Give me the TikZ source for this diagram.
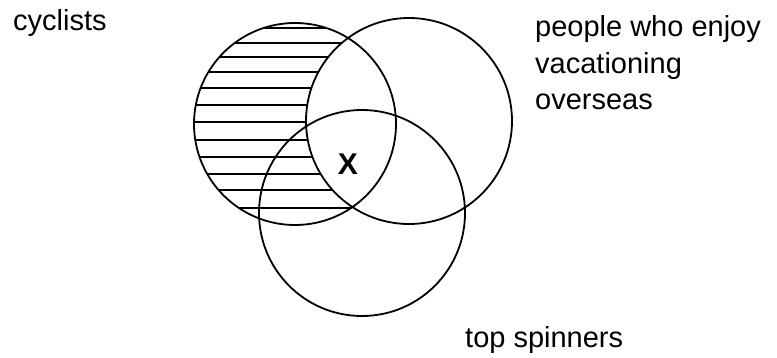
\documentclass[tikz,border=0pt]{standalone}
\usepackage{fontspec}
\setmainfont{Liberation Sans}
\begin{document}
\begin{tikzpicture}[x=1pt,y=-1pt,
  ring/.style={draw=black,line width=1.8pt},
  hatch/.style={draw=black,line width=1.8pt},
  lbl/.style={inner sep=0pt,anchor=base west,align=left,font=\fontsize{29}{36.5}\selectfont}]
\useasboundingbox (0,0) rectangle (777,358);
% hatching in cyclists-only region
\begin{scope}
  \clip (295,124) circle (101);
  \foreach \yy in {28,43,57,72,88,105,122,140,157,174,190,208}
    \draw[hatch] (180,\yy) -- (420,\yy);
\end{scope}
\fill[white] (409,121) circle (103);
% circles
\draw[ring] (295,124) circle (101);
\draw[ring] (409,121) circle (103);
\draw[ring] (362,213) circle (103);
% labels
\node[lbl] (cyc) at (13,31) {cyclists};
\node[lbl] (ppl1) at (535,37) {people who enjoy};
\node[lbl] (ppl2) at (535,73.5) {vacationing};
\node[lbl] (ppl3) at (535,110) {overseas};
\node[lbl] (top) at (465,348) {top spinners};
\node[inner sep=0pt,font=\fontsize{30}{30}\selectfont\bfseries] (x) at (348,164) {X};
\end{tikzpicture}
\end{document}
